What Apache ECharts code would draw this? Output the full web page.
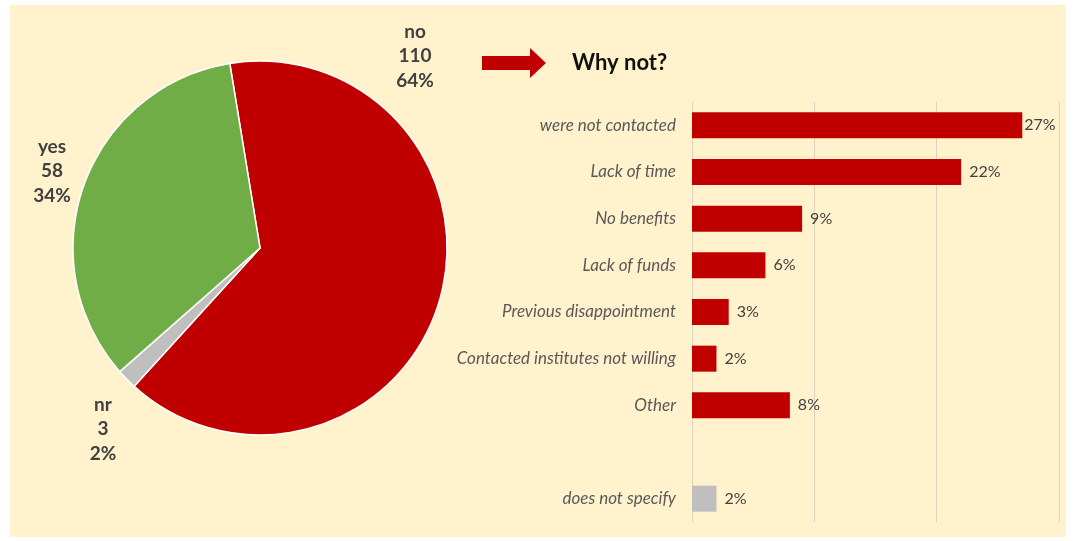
<!DOCTYPE html>
<html>
<head>
<meta charset="utf-8">
<script src="https://cdn.jsdelivr.net/npm/echarts@6/dist/echarts.min.js"></script>
<style>
  html, body { margin: 0; padding: 0; background: #ffffff; }
  #chart { width: 1076px; height: 541px; }
</style>
</head>
<body>
<div id="chart"></div>
<script>
// Survey answers (pie), listed in clockwise drawing order
const answerNames = ['no', 'nr', 'yes'];
const answerCounts = [110, 3, 58];
const answerColors = ['#C00000', '#BFBFBF', '#70AD47'];

// Reasons given by the "no" group (percent of respondents)
const reasonNames = [
  'were not contacted',
  'Lack of time',
  'No benefits',
  'Lack of funds',
  'Previous disappointment',
  'Contacted institutes not willing',
  'Other',
  '',
  'does not specify'
];
const reasonValues = [27, 22, 9, 6, 3, 2, 8, null, 2];
const reasonColors = ['#C00000', '#C00000', '#C00000', '#C00000', '#C00000', '#C00000', '#C00000', '#C00000', '#BFBFBF'];

// Value axis ticks
const axisMin = 0;
const axisMax = 30;
const axisStep = 10;

const FONT = 'Lato, "Open Sans", sans-serif';
const total = answerCounts.reduce((a, b) => a + b, 0);

// Where each pie label block is centred
const pieLabelSpots = {
  no: [415, 56],
  nr: [103, 429],
  yes: [52, 171]
};

const chart = echarts.init(document.getElementById('chart'), null, { renderer: 'canvas' });

chart.setOption({
  backgroundColor: '#ffffff',
  animation: false,
  graphic: [
    {
      type: 'rect',
      z: -10,
      shape: { x: 10, y: 5, width: 1056, height: 532 },
      style: { fill: '#FFF2CC' }
    },
    {
      type: 'polygon',
      shape: {
        points: [[482, 56], [530, 56], [530, 48], [546, 63], [530, 78], [530, 70], [482, 70]]
      },
      style: { fill: '#C00000' }
    },
    {
      type: 'text',
      x: 572,
      y: 63,
      style: {
        text: 'Why not?',
        fontFamily: FONT,
        fontWeight: 'bold',
        fontSize: 22,
        fill: '#111111',
        verticalAlign: 'middle'
      }
    }
  ],
  grid: {
    left: 692,
    right: 17,
    top: 102,
    bottom: 19,
    containLabel: false
  },
  xAxis: {
    type: 'value',
    min: axisMin,
    max: axisMax,
    interval: axisStep,
    axisLabel: { show: false },
    axisLine: { show: false },
    axisTick: { show: false },
    splitLine: { show: true, lineStyle: { color: '#DCD3BC', width: 1 } }
  },
  yAxis: {
    type: 'category',
    inverse: true,
    data: reasonNames,
    axisLine: { show: false },
    axisTick: { show: false },
    axisLabel: {
      margin: 16,
      fontFamily: FONT,
      fontStyle: 'italic',
      fontSize: 17,
      color: '#595959'
    }
  },
  series: [
    {
      type: 'pie',
      center: [260, 248],
      radius: 187,
      startAngle: 99.3,
      clockwise: true,
      avoidLabelOverlap: false,
      itemStyle: { borderColor: '#ffffff', borderWidth: 1.5 },
      label: {
        show: true,
        position: 'outside',
        fontFamily: FONT,
        fontWeight: 'bold',
        fontSize: 19,
        lineHeight: 24.5,
        color: '#404040',
        align: 'center',
        formatter: p => p.name + '\n' + p.value + '\n' + Math.round(p.value / total * 100) + '%'
      },
      labelLine: { show: false },
      labelLayout: p => {
        const spot = pieLabelSpots[answerNames[p.dataIndex]];
        return { x: spot[0], y: spot[1], align: 'center', verticalAlign: 'middle' };
      },
      data: answerNames.map((n, i) => ({
        name: n,
        value: answerCounts[i],
        itemStyle: { color: answerColors[i] }
      }))
    },
    {
      type: 'bar',
      barWidth: 26,
      data: reasonValues.map((v, i) => ({
        value: v,
        itemStyle: { color: reasonColors[i] },
        label: { distance: i === 0 ? 2 : 8 }
      })),
      label: {
        show: true,
        position: 'right',
        fontFamily: FONT,
        fontSize: 16,
        color: '#404040',
        formatter: p => (p.value == null ? '' : p.value + '%')
      }
    }
  ]
});
</script>
</body>
</html>
